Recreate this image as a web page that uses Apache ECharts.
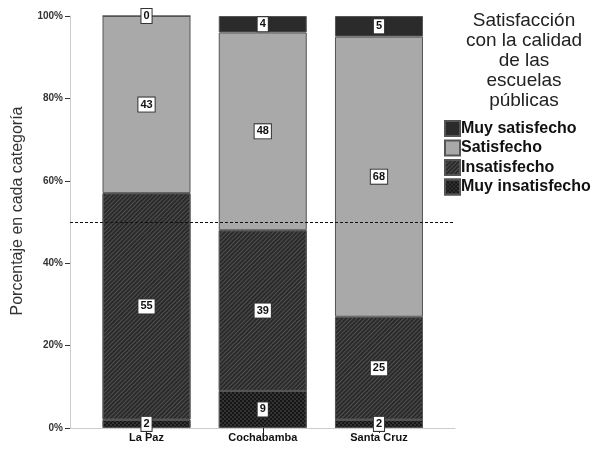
<!DOCTYPE html>
<html><head><meta charset="utf-8">
<script src="https://cdn.jsdelivr.net/npm/echarts@6/dist/echarts.min.js"></script>
<style>html,body{margin:0;padding:0;background:#fff}#c{width:595px;height:451px}</style>
</head><body><div id="c"></div>
<script>
const categories = ['La Paz', 'Cochabamba', 'Santa Cruz'];
const muyInsatisfecho = [2, 9, 2];
const insatisfecho = [55, 39, 25];
const satisfecho = [43, 48, 68];
const muySatisfecho = [0, 4, 5];
const yTicks = [0, 20, 40, 60, 80, 100];
const referenceLine = 50;
const legendTitle = 'Satisfacción\ncon la calidad\nde las\nescuelas\npúblicas';
const yName = 'Porcentaje en cada categoría';

const FONT = 'Liberation Sans, Arial, Helvetica, sans-serif';
const chart = echarts.init(document.getElementById('c'));
const label = {
  show: true, position: 'inside', backgroundColor: '#fff', borderColor: '#333', borderWidth: 1,
  padding: [2, 2, 1, 2], color: '#111', fontWeight: 'bold', fontSize: 11, fontFamily: FONT
};
function bar(name, data, color, decal) {
  const s = {
    name, type: 'bar', data, stack: 'a', xAxisIndex: 1, yAxisIndex: 1, barWidth: 88,
    itemStyle: { color, borderColor: '#555', borderWidth: 1 }, label, z: 2
  };
  if (decal) s.itemStyle.decal = decal;
  return s;
}
chart.setOption({
  animation: false,
  title: {
    text: legendTitle, left: 524, top: 11, textAlign: 'center', padding: 0,
    textStyle: { fontFamily: FONT, fontWeight: 'normal', fontSize: 19, lineHeight: 20, color: '#222' }
  },
  legend: {
    data: ['Muy satisfecho', 'Satisfecho', 'Insatisfecho', 'Muy insatisfecho'],
    orient: 'vertical', left: 444, top: 120, padding: 0, itemWidth: 15, itemHeight: 15, itemGap: 2.5,
    icon: 'rect',
    textStyle: { fontFamily: FONT, fontWeight: 'bold', fontSize: 16, color: '#111', padding: [0, 0, 0, -4] }
  },
  grid: [
    { left: 70, right: 140, top: 16, bottom: 23 },
    { left: 88.4, right: 157.9, top: 16, bottom: 23 }
  ],
  xAxis: [
    { type: 'value', gridIndex: 0, min: 0, max: 1, axisLine: { show: true, onZero: false, lineStyle: { color: '#ccc' } },
      axisTick: { show: false }, axisLabel: { show: false }, splitLine: { show: false } },
    { type: 'category', gridIndex: 1, data: categories, axisLine: { show: false },
      axisTick: { show: true, alignWithLabel: true, length: 5, lineStyle: { color: '#222' } },
      axisLabel: { fontFamily: FONT, fontWeight: 'bold', fontSize: 11, color: '#111', margin: 4 } }
  ],
  yAxis: [
    { type: 'value', gridIndex: 0, min: 0, max: 100, interval: 20, name: yName, nameLocation: 'middle', nameGap: 44,
      nameTextStyle: { fontFamily: FONT, fontSize: 16, color: '#333', padding: [0, 0, 0, 22] },
      axisLine: { show: true, lineStyle: { color: '#ccc' } },
      axisTick: { show: true, length: 5, lineStyle: { color: '#333' } },
      axisLabel: { fontFamily: FONT, fontWeight: 'bold', fontSize: 10, color: '#333', margin: 7,
        formatter: v => yTicks.includes(v) ? v + '%' : '' },
      splitLine: { show: false } },
    { type: 'value', gridIndex: 1, min: 0, max: 100, show: false }
  ],
  series: [
    { type: 'line', xAxisIndex: 0, yAxisIndex: 0, data: [], z: 10,
      markLine: { silent: true, symbol: 'none', z: 10, label: { show: false },
        lineStyle: { type: [3, 2], color: '#111', width: 1.2 }, data: [{ yAxis: referenceLine }] } },
    bar('Muy insatisfecho', muyInsatisfecho, '#161616',
      { color: '#333', symbol: 'rect', symbolSize: 1, dashArrayX: [[2, 2], [0, 2, 2, 0]], dashArrayY: [2, 0] }),
    bar('Insatisfecho', insatisfecho, '#2a2a2a',
      { color: '#505050', symbol: 'rect', symbolSize: 1, dashArrayX: [1, 0], dashArrayY: [1, 2], rotation: -Math.PI / 4 }),
    bar('Satisfecho', satisfecho, '#a9a9a9'),
    bar('Muy satisfecho', muySatisfecho, '#2b2b2b')
  ]
});
</script></body></html>
